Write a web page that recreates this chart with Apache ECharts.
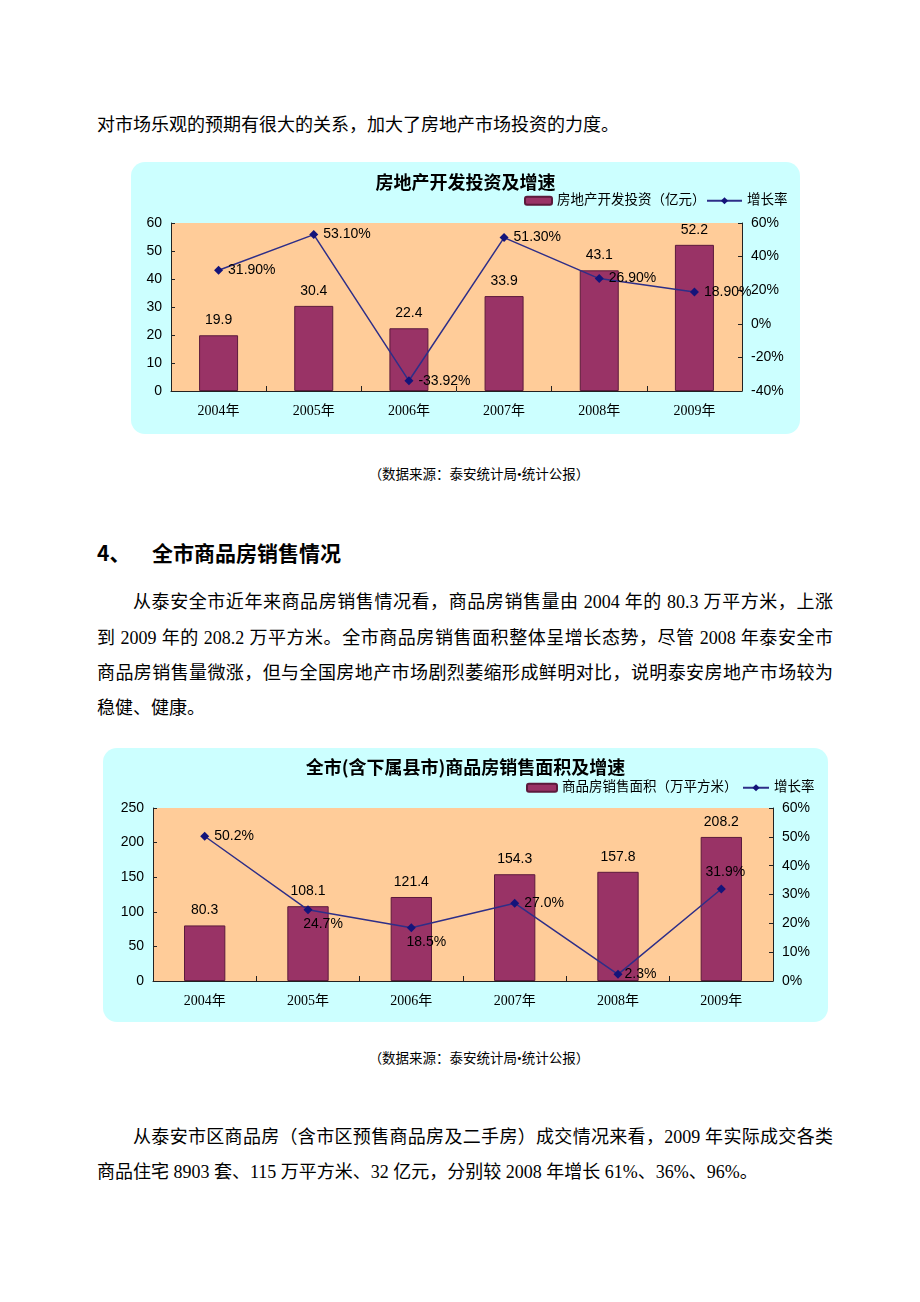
<!DOCTYPE html>
<html>
<head>
<meta charset="utf-8">
<script src="https://cdn.jsdelivr.net/npm/echarts@6/dist/echarts.min.js"></script>
<style>
html,body{margin:0;padding:0;background:#fff;width:920px;height:1302px;overflow:hidden;}
.t{position:absolute;font-family:"Liberation Serif","Noto Sans CJK SC",serif;font-size:18px;color:#000;white-space:nowrap;line-height:24px;height:24px;}
.j{text-align:justify;text-align-last:justify;}
.src{font-size:13.5px;left:0;width:958px;text-align:center;}
.h{font-family:"Noto Sans CJK SC",sans-serif;font-weight:bold;font-size:21px;}
.panel{position:absolute;background:#CCFFFF;border-radius:14px;}
.chart{position:absolute;}
</style>
</head>
<body>
<div class="t" style="left:97px;top:113px;">对市场乐观的预期有很大的关系，加大了房地产市场投资的力度。</div>

<div class="panel" style="left:131px;top:162px;width:669px;height:272px;"></div>
<div id="c1" class="chart" style="left:131px;top:162px;width:669px;height:272px;"></div>

<div class="t src" style="top:463px;">（数据来源：泰安统计局•统计公报）</div>

<div class="t h" style="left:97px;top:540px;">4、</div>
<div class="t h" style="left:152px;top:540px;">全市商品房销售情况</div>

<div class="t j" style="left:133px;top:590px;width:700px;">从泰安全市近年来商品房销售情况看，商品房销售量由 2004 年的 80.3 万平方米，上涨</div>
<div class="t j" style="left:97px;top:626px;width:736px;">到 2009 年的 208.2 万平方米。全市商品房销售面积整体呈增长态势，尽管 2008 年泰安全市</div>
<div class="t j" style="left:97px;top:661px;width:736px;">商品房销售量微涨，但与全国房地产市场剧烈萎缩形成鲜明对比，说明泰安房地产市场较为</div>
<div class="t" style="left:97px;top:696px;">稳健、健康。</div>

<div class="panel" style="left:103px;top:748px;width:725px;height:274px;"></div>
<div id="c2" class="chart" style="left:103px;top:748px;width:725px;height:274px;"></div>

<div class="t src" style="top:1047px;">（数据来源：泰安统计局•统计公报）</div>

<div class="t j" style="left:133px;top:1125px;width:700px;">从泰安市区商品房（含市区预售商品房及二手房）成交情况来看，2009 年实际成交各类</div>
<div class="t" style="left:97px;top:1160px;">商品住宅 8903 套、115 万平方米、32 亿元，分别较 2008 年增长 61%、36%、96%。</div>

<script>
// ---- data ----
const years = ['2004年', '2005年', '2006年', '2007年', '2008年', '2009年'];
const investment = [19.9, 30.4, 22.4, 33.9, 43.1, 52.2];
const investGrowth = [31.9, 53.1, -33.92, 51.3, 26.9, 18.9];
const salesArea = [80.3, 108.1, 121.4, 154.3, 157.8, 208.2];
const salesGrowth = [50.2, 24.7, 18.5, 27.0, 2.3, 31.9];

const chart1Title = '房地产开发投资及增速';
const chart1BarName = '房地产开发投资（亿元）';
const chart2Title = '全市(含下属县市)商品房销售面积及增速';
const chart2BarName = '商品房销售面积（万平方米）';
const growthName = '增长率';

// axis ranges
const c1Left = {min: 0, max: 60, interval: 10};
const c1Right = {min: -40, max: 60, interval: 20};
const c2Left = {min: 0, max: 250, interval: 50};
const c2Right = {min: 0, max: 60, interval: 10};

// ---- styles ----
const SANS = '"Liberation Sans", Arial, sans-serif';
const SERIF = '"Liberation Serif", "Noto Sans CJK SC", serif';
const BAR = '#993366';
const BAR_BORDER = '#5C1A3C';
const LINE = '#2E2E88';
const MARK = '#14147A';
const AXIS = '#222';

function valueAxis(r, pos, fmt) {
  return {
    type: 'value', position: pos, min: r.min, max: r.max, interval: r.interval,
    axisLine: {show: true, lineStyle: {color: AXIS, width: 1}},
    axisTick: {show: true, inside: true, length: 4, lineStyle: {color: AXIS}},
    splitLine: {show: false},
    axisLabel: {fontFamily: SANS, fontSize: 14, color: '#000', margin: 9, formatter: fmt}
  };
}
function catAxis() {
  return {
    type: 'category', data: years,
    axisLine: {show: true, onZero: false, lineStyle: {color: AXIS, width: 1}},
    axisTick: {show: true, inside: true, length: 5, lineStyle: {color: AXIS}},
    axisLabel: {fontFamily: SERIF, fontSize: 14, color: '#000', margin: 13}
  };
}
function legends(barName, barLeft, barW, lineLeft, lineW, top) {
  const ts = {fontFamily: SERIF, fontSize: 13.5, color: '#000'};
  return [
    {data: [barName], left: barLeft, top: top, padding: 0, itemWidth: barW, itemHeight: 8, textStyle: ts},
    {data: [growthName], left: lineLeft, top: top, padding: 0, itemWidth: lineW, itemHeight: 9, textStyle: ts}
  ];
}
const lblStyle = {fontFamily: SANS, fontSize: 14, color: '#000'};

// ---- chart 1 ----
const c1 = echarts.init(document.getElementById('c1'));
c1.setOption({
  animation: false,
  title: {text: chart1Title, left: 'center', top: 11, padding: 0,
    textStyle: {fontFamily: '"Noto Sans CJK SC", sans-serif', fontWeight: 'bold', fontSize: 18, color: '#000'}},
  legend: legends(chart1BarName, 393, 27, 575, 35, 32),
  grid: {left: 40, top: 61, width: 571, height: 168, show: true, backgroundColor: '#FFCC99', borderWidth: 0},
  xAxis: catAxis(),
  yAxis: [valueAxis(c1Left, 'left', '{value}'), valueAxis(c1Right, 'right', '{value}%')],
  series: [
    {name: chart1BarName, type: 'bar', yAxisIndex: 0, data: investment, barWidth: '41%',
      itemStyle: {color: BAR, borderColor: BAR_BORDER, borderWidth: 1},
      label: Object.assign({show: true, position: 'top', distance: 8, formatter: p => p.value.toFixed(1)}, lblStyle)},
    {name: growthName, type: 'line', yAxisIndex: 1, data: investGrowth,
      symbol: 'diamond', symbolSize: 9,
      lineStyle: {color: LINE, width: 1.5}, itemStyle: {color: MARK},
      label: Object.assign({show: true, position: 'right', distance: 5, formatter: p => p.value.toFixed(2) + '%'}, lblStyle)}
  ]
});

// ---- chart 2 ----
const c2LabelPlace = [
  {position: 'right'},
  {position: 'bottom', offset: [15, -2]},
  {position: 'bottom', offset: [15, -2]},
  {position: 'right'},
  {position: 'right', offset: [-3, 0]},
  {position: 'top', offset: [4, 0]}
];
const c2 = echarts.init(document.getElementById('c2'));
c2.setOption({
  animation: false,
  title: {text: chart2Title, left: 'center', top: 10, padding: 0,
    textStyle: {fontFamily: '"Noto Sans CJK SC", sans-serif', fontWeight: 'bold', fontSize: 18, color: '#000'}},
  legend: legends(chart2BarName, 423, 30, 639, 26, 33),
  grid: {left: 50, top: 60, width: 620, height: 173, show: true, backgroundColor: '#FFCC99', borderWidth: 0},
  xAxis: catAxis(),
  yAxis: [valueAxis(c2Left, 'left', '{value}'), valueAxis(c2Right, 'right', '{value}%')],
  series: [
    {name: chart2BarName, type: 'bar', yAxisIndex: 0, data: salesArea, barWidth: '40%',
      itemStyle: {color: BAR, borderColor: BAR_BORDER, borderWidth: 1},
      label: Object.assign({show: true, position: 'top', distance: 8, formatter: p => p.value.toFixed(1)}, lblStyle)},
    {name: growthName, type: 'line', yAxisIndex: 1,
      data: salesGrowth.map((v, i) => ({value: v, label: c2LabelPlace[i]})),
      symbol: 'diamond', symbolSize: 9,
      lineStyle: {color: LINE, width: 1.5}, itemStyle: {color: MARK},
      label: Object.assign({show: true, position: 'right', distance: 5, formatter: p => p.value.toFixed(1) + '%'}, lblStyle)}
  ]
});
</script>
</body>
</html>
